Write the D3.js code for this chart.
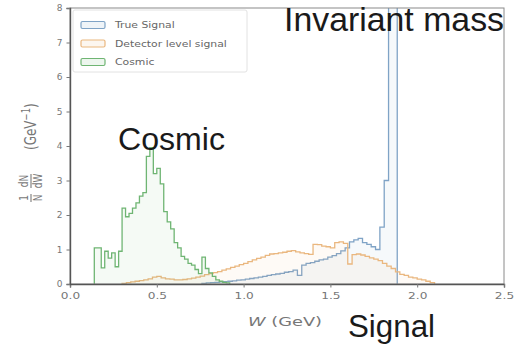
<!DOCTYPE html>
<html>
<head>
<meta charset="utf-8">
<script src="https://cdn.jsdelivr.net/npm/d3@7/dist/d3.min.js"></script>
<style>
  html, body { margin: 0; padding: 0; background: #fff; }
  svg { display: block; }
</style>
</head>
<body>
<svg id="chart" width="527" height="347"></svg>
<script>
// ---- data ----------------------------------------------------------------
// Normalised W distributions, step histograms (bin start, common bin width)
const seriesNames = ["True Signal", "Detector level signal", "Cosmic"];

const trueStart = 0.76, trueWidth = 0.025;
const trueValues = [
  0.02, 0.03, 0.04, 0.05, 0.06, 0.07, 0.08, 0.09, 0.11, 0.12,
  0.14, 0.16, 0.18, 0.20, 0.22, 0.25, 0.27, 0.29, 0.31, 0.34,
  0.36, 0.40, 0.25, 0.55, 0.60, 0.62, 0.66, 0.70, 0.72, 0.78,
  0.82, 0.88, 0.96, 1.05, 1.22, 1.28, 1.32, 1.20, 1.15, 1.08,
  1.00, 1.65, 3.00, 8.60, 8.60
];

const detStart = 0.30, detWidth = 0.025;
const detValues = [
  0.02, 0.04, 0.06, 0.08, 0.10, 0.12, 0.15, 0.20, 0.22, 0.18,
  0.15, 0.14, 0.12, 0.12, 0.13, 0.15, 0.17, 0.20, 0.23, 0.27,
  0.30, 0.33, 0.36, 0.40, 0.44, 0.48, 0.52, 0.56, 0.60, 0.65,
  0.70, 0.74, 0.78, 0.83, 0.87, 0.88, 0.90, 0.92, 0.95, 0.97,
  0.93, 0.90, 0.88, 0.86, 1.15, 1.14, 1.10, 1.08, 1.05, 1.20,
  1.22, 1.18, 0.58, 0.85, 0.87, 0.84, 0.80, 0.76, 0.72, 0.68,
  0.60, 0.52, 0.45, 0.35, 0.28, 0.25, 0.20, 0.18, 0.14, 0.12,
  0.08, 0.04
];

const cosStart = 0.14, cosWidth = 0.02;
const cosValues = [
  1.05, 1.05, 0.47, 0.95, 0.75, 0.90, 0.50, 0.95, 2.20, 1.95,
  2.05, 2.20, 2.35, 2.55, 2.65, 3.70, 3.95, 3.20, 3.35, 2.90,
  2.10, 1.80, 1.60, 1.20, 1.05, 0.80, 0.72, 0.60, 0.55, 0.42,
  0.30, 0.78, 0.45, 0.32, 0.22, 0.12, 0.08, 0.05, 0.03
];

const xTicks = [0.0, 0.5, 1.0, 1.5, 2.0, 2.5];
const yTicks = [0, 1, 2, 3, 4, 5, 6, 7, 8];

// ---- layout ----------------------------------------------------------------
const svg = d3.select("#chart");
const plot = { left: 70, right: 504, top: 8, bottom: 284 };
const stretch = 1.35;   // the figure's text is drawn horizontally widened

const x = d3.scaleLinear().domain([0, 2.5]).range([plot.left, plot.right]);
const y = d3.scaleLinear().domain([0, 8]).range([plot.bottom, plot.top]);

const colors = ["#7fa3c6", "#eab77f", "#6fb573"];

svg.append("defs").append("clipPath").attr("id", "plotClip")
  .append("rect")
  .attr("x", plot.left).attr("y", plot.top)
  .attr("width", plot.right - plot.left).attr("height", plot.bottom - plot.top);

// step outline of a histogram, closed down to zero at both ends
function stepPoints(start, width, values) {
  const pts = [[start, 0]];
  values.forEach((v, i) => {
    pts.push([start + i * width, v]);
    pts.push([start + (i + 1) * width, v]);
  });
  pts.push([start + values.length * width, 0]);
  return pts;
}

const line = d3.line().x(d => x(d[0])).y(d => y(d[1]));

const hists = [
  stepPoints(trueStart, trueWidth, trueValues),
  stepPoints(detStart, detWidth, detValues),
  stepPoints(cosStart, cosWidth, cosValues)
];

const gHist = svg.append("g").attr("clip-path", "url(#plotClip)");
hists.forEach((pts, i) => {
  gHist.append("path")
    .attr("d", line(pts) + "Z")
    .attr("fill", colors[i])
    .attr("fill-opacity", 0.07)
    .attr("stroke", "none");
  gHist.append("path")
    .attr("d", line(pts))
    .attr("fill", "none")
    .attr("stroke", colors[i])
    .attr("stroke-width", 1.3)
    .attr("stroke-linejoin", "miter");
});

// ---- frame and axes ---------------------------------------------------------
svg.append("rect")
  .attr("x", plot.left).attr("y", plot.top)
  .attr("width", plot.right - plot.left).attr("height", plot.bottom - plot.top)
  .attr("fill", "none").attr("stroke", "#8a8a8a").attr("stroke-width", 1);

// widen a text element horizontally by the figure's stretch factor
function widen(sel) {
  sel.each(function () {
    const w = this.getComputedTextLength();
    d3.select(this).attr("textLength", w * stretch).attr("lengthAdjust", "spacingAndGlyphs");
  });
}

const xAxis = svg.append("g")
  .attr("transform", `translate(0,${plot.bottom})`)
  .call(d3.axisBottom(x).tickValues(xTicks).tickFormat(d3.format(".1f"))
    .tickSize(3.5).tickPadding(5));
const yAxis = svg.append("g")
  .attr("transform", `translate(${plot.left},0)`)
  .call(d3.axisLeft(y).tickValues(yTicks).tickFormat(d3.format("d"))
    .tickSize(3.5).tickPadding(4));

[xAxis, yAxis].forEach(g => {
  g.select(".domain").attr("stroke", "#555").attr("stroke-width", 1.4);
  g.selectAll(".tick line").attr("stroke", "#777");
  g.selectAll(".tick text")
    .attr("fill", "#777")
    .style("font-family", "DejaVu Sans, sans-serif")
    .style("font-size", "9px");
});
widen(xAxis.selectAll(".tick text"));

// x-axis label: W (GeV)
const xl = svg.append("text")
  .attr("x", 248).attr("y", 326)
  .attr("fill", "#777")
  .style("font-family", "DejaVu Sans, sans-serif")
  .style("font-size", "13px");
xl.append("tspan").style("font-style", "italic").text("W");
xl.append("tspan").text("  (GeV)");
xl.attr("textLength", 74).attr("lengthAdjust", "spacingAndGlyphs");

// y-axis label: (1/N) dN/dW (GeV^-1), rotated
const yl = svg.append("g")
  .attr("transform", `translate(31,0) scale(${stretch},1) rotate(-90)`)
  .attr("fill", "#777")
  .style("font-family", "DejaVu Sans, sans-serif");
function frac(cx, num, den) {
  yl.append("text").attr("x", cx).attr("y", -2.5).attr("text-anchor", "middle")
    .style("font-size", "9px").text(num);
  yl.append("text").attr("x", cx).attr("y", 8.5).attr("text-anchor", "middle")
    .style("font-size", "9px").text(den);
  const w = num.length > 1 ? 12 : 6;
  yl.append("line").attr("x1", cx - w / 2 - 1).attr("x2", cx + w / 2 + 1)
    .attr("y1", 0).attr("y2", 0).attr("stroke", "#777").attr("stroke-width", 0.8);
}
frac(-198, "1", "N");
frac(-181, "dN", "dW");
const unit = yl.append("text").attr("x", -150).attr("y", 4).style("font-size", "12px");
unit.append("tspan").text("(GeV");
unit.append("tspan").attr("dy", -5).style("font-size", "8.5px").text("\u22121");
unit.append("tspan").attr("dy", 5).text(")");

// ---- legend -----------------------------------------------------------------
const lg = svg.append("g");
lg.append("rect")
  .attr("x", 73).attr("y", 10).attr("width", 174).attr("height", 62)
  .attr("rx", 2).attr("fill", "#fff").attr("fill-opacity", 0.8)
  .attr("stroke", "#e2e2e2");
seriesNames.forEach((name, i) => {
  const cy = 25 + i * 18.5;
  lg.append("rect")
    .attr("x", 81).attr("y", cy - 3.5).attr("width", 24).attr("height", 7)
    .attr("rx", 1.5)
    .attr("fill", colors[i]).attr("fill-opacity", 0.12)
    .attr("stroke", colors[i]).attr("stroke-width", 1.2);
  const t = lg.append("text")
    .attr("x", 115).attr("y", cy + 3.3)
    .attr("fill", "#666")
    .style("font-family", "DejaVu Sans, sans-serif")
    .style("font-size", "9.5px")
    .text(name);
  const w = t.node().getComputedTextLength();
  t.attr("textLength", w * 1.14).attr("lengthAdjust", "spacingAndGlyphs");
});

// ---- annotations ------------------------------------------------------------
const ann = [
  { text: "Invariant mass", x: 284, y: 31, size: 33, len: 220 },
  { text: "Cosmic", x: 118, y: 150, size: 32, len: 107 },
  { text: "Signal", x: 348, y: 337, size: 31, len: 87 }
];
svg.selectAll("text.ann").data(ann).join("text")
  .attr("class", "ann")
  .attr("x", d => d.x).attr("y", d => d.y)
  .attr("textLength", d => d.len).attr("lengthAdjust", "spacingAndGlyphs")
  .attr("fill", "#1a1a1a")
  .style("font-family", "Liberation Sans, Arial, sans-serif")
  .style("font-size", d => d.size + "px")
  .text(d => d.text);
</script>
</body>
</html>
